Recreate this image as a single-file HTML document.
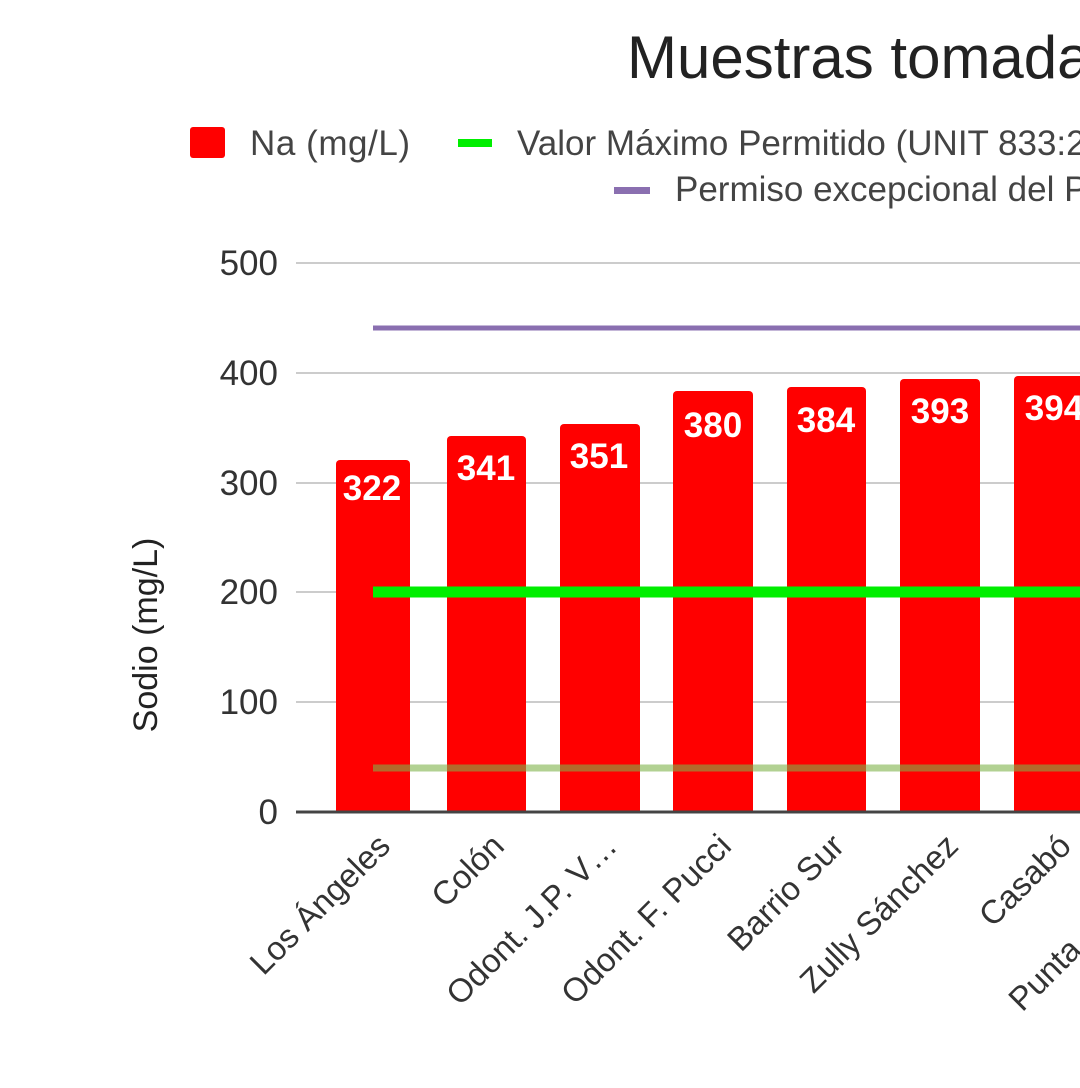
<!DOCTYPE html>
<html><head><meta charset="utf-8"><style>
html,body{margin:0;padding:0;background:#fff;}
svg{display:block;font-family:"Liberation Sans",sans-serif;}
</style></head><body>
<svg width="1080" height="1088" viewBox="0 0 1080 1088" xmlns="http://www.w3.org/2000/svg">
<rect width="1080" height="1088" fill="#fff"/>
<text x="627" y="78" font-size="60" fill="#222">Muestras tomadas en el Departamento</text>
<rect x="190" y="127" width="35" height="31" rx="3" fill="#ff0000"/>
<text x="250" y="155" font-size="35" fill="#444" textLength="160">Na (mg/L)</text>
<rect x="458" y="139" width="34" height="8" fill="#00ee00"/>
<text x="517" y="155" font-size="35" fill="#444">Valor Máximo Permitido (UNIT 833:2008)</text>
<rect x="614" y="187" width="36" height="7" fill="#8a6fb0"/>
<text x="675" y="201" font-size="35" fill="#444">Permiso excepcional del Poder Ejecutivo</text>
<g stroke="#ccc" stroke-width="2">
<line x1="296" y1="263" x2="1080" y2="263"/>
<line x1="296" y1="373" x2="1080" y2="373"/>
<line x1="296" y1="483" x2="1080" y2="483"/>
<line x1="296" y1="592" x2="1080" y2="592"/>
<line x1="296" y1="702" x2="1080" y2="702"/>
</g>
<g font-size="35" fill="#333" text-anchor="end">
<text x="278" y="275">500</text>
<text x="278" y="385">400</text>
<text x="278" y="495">300</text>
<text x="278" y="604">200</text>
<text x="278" y="714">100</text>
<text x="278" y="824">0</text>
</g>
<text transform="translate(157,635) rotate(-90)" font-size="34" fill="#222" text-anchor="middle">Sodio (mg/L)</text>
<g fill="#ff0000">
<path d="M336 812V464a4 4 0 0 1 4-4h66a4 4 0 0 1 4 4V812z"/>
<path d="M447 812V440a4 4 0 0 1 4-4h71a4 4 0 0 1 4 4V812z"/>
<path d="M560 812V428a4 4 0 0 1 4-4h72a4 4 0 0 1 4 4V812z"/>
<path d="M673 812V395a4 4 0 0 1 4-4h72a4 4 0 0 1 4 4V812z"/>
<path d="M787 812V391a4 4 0 0 1 4-4h71a4 4 0 0 1 4 4V812z"/>
<path d="M900 812V383a4 4 0 0 1 4-4h72a4 4 0 0 1 4 4V812z"/>
<path d="M1014 812V380a4 4 0 0 1 4-4h72a4 4 0 0 1 4 4V812z"/>
</g>
<g font-size="35" font-weight="bold" fill="#fff" text-anchor="middle">
<text x="372" y="500">322</text>
<text x="486" y="480">341</text>
<text x="599" y="468">351</text>
<text x="713" y="437">380</text>
<text x="826" y="432">384</text>
<text x="940" y="423">393</text>
<text x="1054" y="420">394</text>
</g>
<line x1="373" y1="328" x2="1080" y2="328" stroke="#8a6fb0" stroke-width="5"/>
<line x1="373" y1="592" x2="1080" y2="592" stroke="#00ee00" stroke-width="11"/>
<line x1="373" y1="768" x2="1080" y2="768" stroke="#7fb34a" stroke-opacity="0.6" stroke-width="7"/>
<line x1="296" y1="812" x2="1080" y2="812" stroke="#444" stroke-width="3"/>
<g font-size="33" fill="#333" text-anchor="end">
<text transform="translate(392,848) rotate(-45)">Los Ángeles</text>
<text transform="translate(506,848) rotate(-45)">Colón</text>
<text transform="translate(619,848) rotate(-45)">Odont. J.P. V…</text>
<text transform="translate(733,848) rotate(-45)">Odont. F. Pucci</text>
<text transform="translate(846,848) rotate(-45)">Barrio Sur</text>
<text transform="translate(960,848) rotate(-45)">Zully Sánchez</text>
<text transform="translate(1073,848) rotate(-45)">Casabó</text>
<text transform="translate(1187,848) rotate(-45)">Punta de Rieles</text>
</g>
</svg>
</body></html>
